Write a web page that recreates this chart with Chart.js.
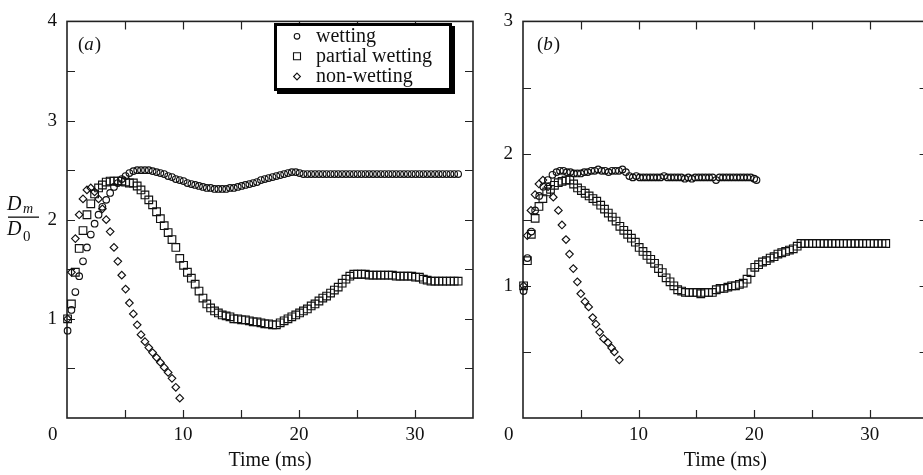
<!DOCTYPE html>
<html><head><meta charset="utf-8">
<script src="https://cdn.jsdelivr.net/npm/chart.js@4.4.1/dist/chart.umd.min.js"></script>
<style>
html,body{margin:0;padding:0;background:#fff;overflow:hidden;width:923px;height:475px;position:relative;}
#wa{position:absolute;left:0;top:0;width:480px;height:475px;}
#wb{position:absolute;left:480px;top:0;width:460px;height:475px;}
canvas{display:block;}
</style></head><body>
<div id="wa"><canvas id="ca" width="480" height="475"></canvas></div>
<div id="wb"><canvas id="cb" width="460" height="475"></canvas></div>
<script>
// ---------- data ----------
const SERIES_NAMES = ['wetting', 'partial wetting', 'non-wetting'];
const PANEL_LABELS = ['a', 'b'];
const X_TITLE = 'Time (ms)';
const X_TICK_LABELS = ['0', '10', '20', '30'];
const Y_TICK_LABELS_A = ['1', '2', '3', '4'];
const Y_TICK_LABELS_B = ['1', '2', '3'];

// panel (a): common sampling times (ms)
const TIME_A = [0.05,0.38,0.72,1.05,1.38,1.72,2.05,2.38,2.72,3.05,
 3.38,3.72,4.05,4.38,4.72,5.05,5.38,5.72,6.05,6.38,
 6.72,7.05,7.38,7.72,8.05,8.38,8.72,9.05,9.38,9.72,
 10.05,10.38,10.72,11.05,11.38,11.72,12.05,12.38,12.72,13.05,
 13.38,13.72,14.05,14.38,14.72,15.05,15.38,15.72,16.05,16.38,
 16.72,17.05,17.38,17.72,18.05,18.38,18.72,19.05,19.38,19.72,
 20.05,20.38,20.72,21.05,21.38,21.72,22.05,22.38,22.72,23.05,
 23.38,23.72,24.05,24.38,24.72,25.05,25.38,25.72,26.05,26.38,
 26.72,27.05,27.38,27.72,28.05,28.38,28.72,29.05,29.38,29.72,
 30.05,30.38,30.72,31.05,31.38,31.72,32.05,32.38,32.72,33.05,
 33.38,33.72];
const WET_A = [0.88,1.09,1.27,1.43,1.58,1.72,1.85,1.96,2.05,2.13,
 2.20,2.27,2.33,2.37,2.41,2.44,2.47,2.49,2.50,2.50,
 2.50,2.50,2.49,2.48,2.47,2.46,2.44,2.43,2.41,2.40,
 2.39,2.37,2.36,2.35,2.34,2.33,2.32,2.32,2.31,2.31,
 2.31,2.31,2.32,2.32,2.33,2.34,2.35,2.36,2.37,2.38,
 2.40,2.41,2.42,2.43,2.44,2.45,2.46,2.47,2.48,2.48,
 2.47,2.46,2.46,2.46,2.46,2.46,2.46,2.46,2.46,2.46,
 2.46,2.46,2.46,2.46,2.46,2.46,2.46,2.46,2.46,2.46,
 2.46,2.46,2.46,2.46,2.46,2.46,2.46,2.46,2.46,2.46,
 2.46,2.46,2.46,2.46,2.46,2.46,2.46,2.46,2.46,2.46,
 2.46,2.46];
const PART_A = [1.00,1.15,1.47,1.71,1.89,2.05,2.16,2.26,2.32,2.35,
 2.38,2.39,2.39,2.39,2.39,2.38,2.37,2.37,2.34,2.30,
 2.25,2.20,2.15,2.08,2.01,1.94,1.87,1.80,1.72,1.61,
 1.54,1.47,1.41,1.35,1.28,1.21,1.15,1.11,1.08,1.06,
 1.04,1.03,1.02,1.00,1.00,0.99,0.99,0.98,0.97,0.97,
 0.96,0.95,0.95,0.94,0.94,0.96,0.98,1.00,1.02,1.04,
 1.06,1.08,1.10,1.13,1.15,1.18,1.21,1.23,1.26,1.29,
 1.32,1.36,1.40,1.43,1.45,1.45,1.45,1.45,1.44,1.44,
 1.44,1.44,1.44,1.44,1.44,1.43,1.43,1.43,1.43,1.43,
 1.42,1.42,1.40,1.39,1.38,1.38,1.38,1.38,1.38,1.38,
 1.38,1.38];
const NON_A = [1.00,1.47,1.81,2.05,2.21,2.30,2.32,2.28,2.21,2.11,
 2.00,1.88,1.72,1.58,1.44,1.30,1.16,1.05,0.94,0.84,
 0.77,0.71,0.66,0.61,0.56,0.51,0.46,0.40,0.31,0.20];

// panel (b)
const WET_B_T = [0.05,0.38,0.72,1.05,1.40,1.76,2.15,2.55,2.90,
 3.20,3.50,3.80,4.10,4.40,4.70,5.00,5.30,5.60,5.90,
 6.20,6.50,6.80,7.10,7.40,7.70,8.00,8.30,8.60,8.90,
 9.20,9.50,9.80,10.10,10.40,10.70,11.00,11.30,11.60,11.90,
 12.20,12.50,12.80,13.10,13.40,13.70,14.00,14.30,14.60,14.90,
 15.20,15.50,15.80,16.10,16.40,16.70,17.00,17.30,17.60,17.90,
 18.20,18.50,18.80,19.10,19.40,19.70,20.00,20.20];
const WET_B = [0.96,1.21,1.41,1.57,1.68,1.75,1.80,1.84,1.86,
 1.87,1.87,1.86,1.86,1.85,1.85,1.85,1.86,1.86,1.87,
 1.87,1.88,1.87,1.87,1.86,1.87,1.87,1.87,1.88,1.86,
 1.83,1.82,1.83,1.82,1.82,1.82,1.82,1.82,1.82,1.82,
 1.83,1.82,1.82,1.82,1.82,1.82,1.81,1.82,1.81,1.82,
 1.82,1.82,1.82,1.82,1.82,1.80,1.82,1.82,1.82,1.82,
 1.82,1.82,1.82,1.82,1.82,1.82,1.81,1.80];
const PART_B_T = [0.05,0.38,0.72,1.05,1.38,1.72,2.05,2.38,2.72,3.05,
 3.38,3.72,4.05,4.38,4.72,5.05,5.38,5.72,6.05,6.38,
 6.72,7.05,7.38,7.72,8.05,8.38,8.72,9.05,9.38,9.72,
 10.05,10.38,10.72,11.05,11.38,11.72,12.05,12.38,12.72,13.05,
 13.38,13.72,14.05,14.38,14.72,15.05,15.38,15.72,16.05,16.38,
 16.72,17.05,17.38,17.72,18.05,18.38,18.72,19.05,19.38,19.72,
 20.05,20.38,20.72,21.05,21.38,21.72,22.05,22.38,22.72,23.05,
 23.38,23.72,24.05,24.38,24.72,25.05,25.38,25.72,26.05,26.38,
 26.72,27.05,27.38,27.72,28.05,28.38,28.72,29.05,29.38,29.72,
 30.05,30.38,30.72,31.05,31.38];
const PART_B = [1.00,1.19,1.39,1.51,1.60,1.66,1.71,1.73,1.76,1.78,
 1.79,1.80,1.80,1.77,1.74,1.72,1.70,1.68,1.66,1.64,
 1.61,1.58,1.55,1.52,1.49,1.45,1.42,1.39,1.36,1.33,
 1.29,1.26,1.23,1.20,1.17,1.13,1.10,1.06,1.03,1.00,
 0.97,0.96,0.95,0.95,0.95,0.95,0.94,0.95,0.95,0.95,
 0.97,0.98,0.98,0.99,1.00,1.00,1.01,1.02,1.05,1.10,
 1.14,1.16,1.18,1.19,1.21,1.22,1.24,1.25,1.26,1.27,
 1.28,1.30,1.32,1.32,1.32,1.32,1.32,1.32,1.32,1.32,
 1.32,1.32,1.32,1.32,1.32,1.32,1.32,1.32,1.32,1.32,
 1.32,1.32,1.32,1.32,1.32];
const NON_B_T = [0.05,0.37,0.69,1.04,1.38,1.72,2.17,2.62,3.06,3.37,
 3.72,4.02,4.35,4.70,5.00,5.36,5.68,6.03,6.31,6.63,
 6.97,7.35,7.67,7.90,8.33];
const NON_B = [1.00,1.38,1.57,1.69,1.77,1.80,1.75,1.67,1.57,1.46,
 1.35,1.24,1.13,1.03,0.94,0.88,0.84,0.76,0.71,0.65,
 0.60,0.57,0.53,0.50,0.44];

// ---------- styling ----------
const SERIF = '"Liberation Serif", "Times New Roman", serif';
const INK = '#111';
const STYLES = [
  {pointStyle: 'circle', radius: 3.3},
  {pointStyle: 'rect', radius: 5.4},
  {pointStyle: 'rectRot', radius: 3.8}
];

function pts(ts, vs) { return vs.map((v, i) => ({x: ts[i], y: v})); }

function makeDatasets(list) {
  return list.map((d, i) => ({
    label: SERIES_NAMES[i],
    data: pts(d[0], d[1]),
    pointStyle: STYLES[i].pointStyle,
    pointRadius: STYLES[i].radius,
    pointBorderColor: INK,
    pointBackgroundColor: 'rgba(0,0,0,0)',
    pointBorderWidth: 1.15,
    showLine: false,
    clip: false
  }));
}

const framePlugin = {
  id: 'frame',
  beforeDatasetsDraw(chart) {
    const {ctx, chartArea: a, scales: {x, y}} = chart;
    ctx.save();
    ctx.strokeStyle = '#222';
    ctx.lineWidth = 1.6;
    ctx.strokeRect(a.left, a.top, a.right - a.left, a.bottom - a.top);
    ctx.lineWidth = 1.2;
    ctx.beginPath();
    const L = 8;
    x.ticks.forEach(t => {
      const px = Math.round(x.getPixelForValue(t.value)) + 0.5;
      if (px <= a.left + 2 || px >= a.right - 2) return;
      ctx.moveTo(px, a.bottom); ctx.lineTo(px, a.bottom - L);
      ctx.moveTo(px, a.top); ctx.lineTo(px, a.top + L);
    });
    y.ticks.forEach(t => {
      const py = Math.round(y.getPixelForValue(t.value)) + 0.5;
      if (py <= a.top + 2 || py >= a.bottom - 2) return;
      ctx.moveTo(a.left, py); ctx.lineTo(a.left + L, py);
      ctx.moveTo(a.right, py); ctx.lineTo(a.right - L, py);
    });
    ctx.stroke();
    ctx.restore();
  }
};

const annotPlugin = {
  id: 'annot',
  afterDraw(chart, args, opts) {
    const ctx = chart.ctx;
    ctx.save();
    ctx.fillStyle = INK;
    ctx.textBaseline = 'alphabetic';
    // panel label (a)/(b), positioned relative to the chart area
    let x = chart.chartArea.left + opts.labelDX, yb = 49.5;
    ctx.font = '19px ' + SERIF;
    ctx.fillText('(', x, yb); x += ctx.measureText('(').width;
    ctx.font = 'italic 19px ' + SERIF;
    ctx.fillText(opts.panel, x, yb); x += ctx.measureText(opts.panel).width + 1;
    ctx.font = '19px ' + SERIF;
    ctx.fillText(')', x, yb);

    if (opts.yTitle) {
      // D_m / D_0
      ctx.font = 'italic 20px ' + SERIF;
      ctx.fillText('D', 7, 209.5);
      ctx.font = 'italic 14px ' + SERIF;
      ctx.fillText('m', 23, 213);
      ctx.fillRect(8, 216.5, 31, 1.3);
      ctx.font = 'italic 20px ' + SERIF;
      ctx.fillText('D', 7, 235);
      ctx.font = '15px ' + SERIF;
      ctx.fillText('0', 23, 240.5);
    }

    if (opts.legend) {
      ctx.fillStyle = '#000';
      ctx.fillRect(274, 23, 178, 68);
      ctx.fillRect(277, 26, 178, 68);
      ctx.fillStyle = '#fff';
      ctx.fillRect(277, 26, 172, 62);
      const rows = [36.3, 56.2, 76.5];
      const base = [42, 62, 81.5];
      chart.data.datasets.forEach((ds, i) => {
        ctx.strokeStyle = INK; ctx.lineWidth = 1.1;
        const cx = 297, cy = rows[i];
        ctx.beginPath();
        if (ds.pointStyle === 'circle') ctx.arc(cx, cy, 2.8, 0, Math.PI * 2);
        else if (ds.pointStyle === 'rect') ctx.rect(cx - 3.5, cy - 3.5, 7, 7);
        else { ctx.moveTo(cx, cy - 3.4); ctx.lineTo(cx + 3.4, cy); ctx.lineTo(cx, cy + 3.4); ctx.lineTo(cx - 3.4, cy); ctx.closePath(); }
        ctx.stroke();
        ctx.fillStyle = INK;
        ctx.font = '20px ' + SERIF;
        ctx.fillText(ds.label, 316, base[i]);
      });
    }
    ctx.restore();
  }
};

function makeChart(canvasId, datasets, yMax, yLabels, yWidth, rightPad, annot) {
  return new Chart(document.getElementById(canvasId), {
    type: 'scatter',
    data: {datasets},
    options: {
      responsive: false,
      animation: false,
      devicePixelRatio: 1,
      events: [],
      layout: {padding: {top: 14, right: rightPad, bottom: 0, left: 0}},
      plugins: {legend: {display: false}, tooltip: {enabled: false}, annot},
      scales: {
        x: {
          type: 'linear', min: 0, max: 35,
          grid: {display: false, drawTicks: false},
          border: {display: false},
          afterFit: s => { s.height = 57; },
          ticks: {
            stepSize: 5, autoSkip: false, maxRotation: 0, padding: 6,
            color: INK, font: {family: SERIF, size: 19},
            callback: v => {
              const s = String(v);
              if (!X_TICK_LABELS.includes(s)) return '';
              return v === 0 ? s + '      ' : s;
            }
          },
          title: {display: true, text: X_TITLE, color: INK,
                  font: {family: SERIF, size: 20}, padding: {top: 0, bottom: 2}}
        },
        y: {
          type: 'linear', min: 0, max: yMax,
          grid: {display: false, drawTicks: false},
          border: {display: false},
          afterFit: s => { s.width = yWidth; },
          ticks: {
            stepSize: 0.5, autoSkip: false, padding: 10,
            color: INK, font: {family: SERIF, size: 19},
            callback: v => yLabels.includes(String(v)) ? String(v) : ''
          }
        }
      }
    },
    plugins: [framePlugin, annotPlugin]
  });
}

makeChart('ca', makeDatasets([[TIME_A, WET_A], [TIME_A, PART_A], [TIME_A.slice(0, NON_A.length), NON_A]]),
  4, Y_TICK_LABELS_A, 67, 7, {panel: PANEL_LABELS[0], labelDX: 11, yTitle: true, legend: true});

makeChart('cb', makeDatasets([[WET_B_T, WET_B], [PART_B_T, PART_B], [NON_B_T, NON_B]]),
  3, Y_TICK_LABELS_B, 43, 12.4, {panel: PANEL_LABELS[1], labelDX: 14, yTitle: false, legend: false});
</script>
</body></html>
